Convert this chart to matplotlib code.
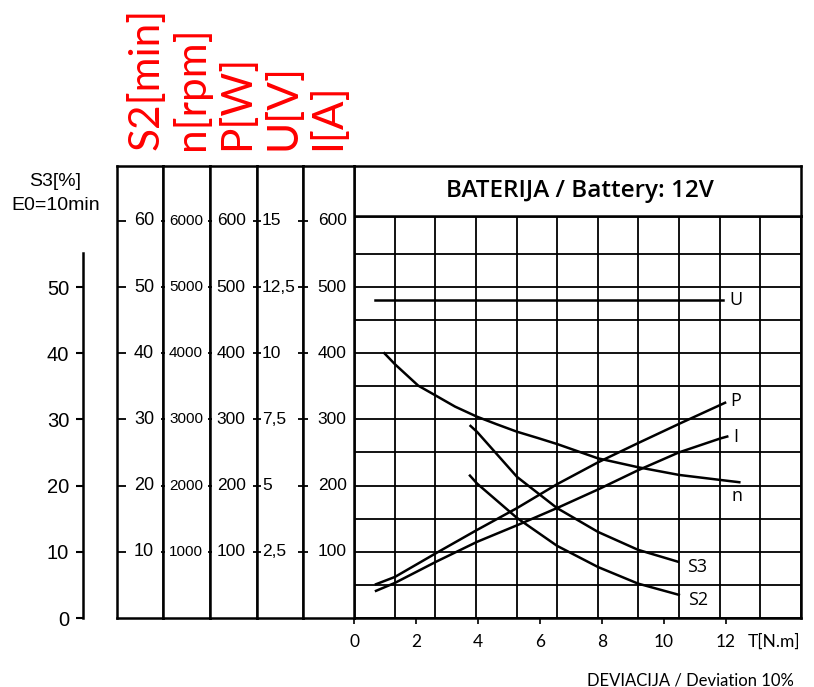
import numpy as np
import matplotlib
matplotlib.use("Agg")
import matplotlib.pyplot as plt
from matplotlib.transforms import blended_transform_factory

# ---------------- data ----------------
torque_ticks = [0, 2, 4, 6, 8, 10, 12]
s3_ticks = [0, 10, 20, 30, 40, 50]
s2_ticks = [10, 20, 30, 40, 50, 60]
n_ticks = [1000, 2000, 3000, 4000, 5000, 6000]
p_ticks = [100, 200, 300, 400, 500, 600]
u_ticks = [2.5, 5, 7.5, 10, 12.5, 15]
u_tick_labels = ["2,5", "5", "7,5", "10", "12,5", "15"]
i_ticks = [100, 200, 300, 400, 500, 600]

u_T = [0.68, 11.9]
u_V = [12, 12]

n_T = [0.98, 1.32, 2.07, 2.64, 3.26, 3.96, 4.60, 5.25, 5.95, 6.57, 7.86, 9.17, 10.49, 11.81, 12.43]
n_rpm = [3998, 3832, 3509, 3358, 3192, 3041, 2926, 2814, 2715, 2624, 2412, 2276, 2160, 2085, 2050]

p_T = [0.71, 1.32, 2.65, 3.97, 5.26, 6.55, 7.87, 9.16, 10.48, 11.97]
p_W = [51, 62, 98, 133, 166, 202, 235, 264, 293, 325]

i_T = [0.71, 1.32, 2.65, 3.97, 5.26, 6.55, 7.87, 9.16, 10.48, 11.81, 12.04]
i_A = [41, 53, 85, 115, 140, 166, 194, 223, 250, 271, 274]

s3_T = [3.76, 3.97, 5.26, 6.55, 7.87, 9.16, 10.45]
s3_pct = [29.0, 28.1, 21.3, 16.6, 13.0, 10.3, 8.5]

s2_T = [3.74, 3.97, 5.26, 6.55, 7.87, 9.16, 10.48]
s2_min = [21.5, 20.3, 15.1, 10.9, 7.7, 5.2, 3.5]

# scale factors relative to the common S3[%] scale
F_S2, F_N, F_P, F_U, F_I = 1.0, 100.0, 10.0, 0.25, 10.0

# ---------------- layout ----------------
W, H = 814, 687
fig = plt.figure(figsize=(W / 100, H / 100), dpi=100)

def rect(l, t, r, b):
    return [l / W, 1 - b / H, (r - l) / W, (b - t) / H]

Y_TOP_GRID = 60.7
Y_TOP_BOX = 68.3
X_MAX = 14.42
LW_BOX = 1.8
LW_GRID = 1.3
LW_CURVE = 1.8
ARIAL = "Liberation Sans"
CAL = "Lato"
OPEN = "Open Sans"

# main grid axes
ax = fig.add_axes(rect(354, 216, 801, 618))
ax.set_xlim(0, X_MAX)
ax.set_ylim(0, Y_TOP_GRID)
ax.set_xticks(torque_ticks)
ax.set_xticklabels([str(t) for t in torque_ticks], fontfamily=CAL, fontsize=12.5)
ax.set_xticks(np.linspace(0, X_MAX, 12), minor=True)
ax.set_yticks([])
ax.set_yticks(np.arange(0, 60, 5), minor=True)
ax.tick_params(axis="x", which="major", direction="out", length=4.5, width=1.2, pad=7)
ax.tick_params(which="minor", length=0)
ax.grid(True, which="minor", color="black", linewidth=LW_GRID)
ax.set_axisbelow(True)
for s in ax.spines.values():
    s.set_linewidth(LW_BOX)

ax.plot(u_T, np.array(u_V) / F_U, color="black", lw=LW_CURVE)
ax.plot(n_T, np.array(n_rpm) / F_N, color="black", lw=LW_CURVE)
ax.plot(p_T, np.array(p_W) / F_P, color="black", lw=LW_CURVE)
ax.plot(i_T, np.array(i_A) / F_I, color="black", lw=LW_CURVE)
ax.plot(s3_T, np.array(s3_pct), color="black", lw=LW_CURVE)
ax.plot(s2_T, np.array(s2_min) / F_S2, color="black", lw=LW_CURVE)

lab_kw = dict(textcoords="offset points", fontsize=13, fontfamily=OPEN, va="center")
ax.annotate("U", (u_T[-1], u_V[-1] / F_U), xytext=(5, 0), ha="left", **lab_kw)
ax.annotate("P", (p_T[-1], p_W[-1] / F_P), xytext=(4, 1.5), ha="left", **lab_kw)
ax.annotate("I", (i_T[-1], i_A[-1] / F_I), xytext=(4, 0), ha="left", **lab_kw)
ax.annotate("n", (n_T[-1], n_rpm[-1] / F_N), xytext=(-2, -10), ha="center", **lab_kw)
ax.annotate("S3", (s3_T[-1], s3_pct[-1]), xytext=(6.5, -3.5), ha="left", **lab_kw)
ax.annotate("S2", (s2_T[-1], s2_min[-1] / F_S2), xytext=(6.5, -3.5), ha="left", **lab_kw)

# header
hx = fig.add_axes(rect(354, 166, 801, 216))
hx.set_xticks([]); hx.set_yticks([])
for s in hx.spines.values():
    s.set_linewidth(LW_BOX)
hx.text(0.505, 0.50, "BATERIJA / Battery: 12V", ha="center", va="center",
        fontsize=17.5, fontfamily=OPEN, fontweight="semibold", transform=hx.transAxes)

# scale columns
cols = [
    (117, 163, F_S2, s2_ticks, [str(v) for v in s2_ticks], 0.59, "center", 13, "in", 6.5),
    (163, 210, F_N, n_ticks, [str(v) for v in n_ticks], 0.49, "center", 11, "inout", 3.5),
    (210, 257, F_P, p_ticks, [str(v) for v in p_ticks], 0.45, "center", 12.5, "inout", 3.0),
    (257, 303, F_U, u_ticks, u_tick_labels, 0.11, "left", 12.5, "inout", 5.5),
    (303, 354, F_I, i_ticks, [str(v) for v in i_ticks], 0.57, "center", 12.5, "inout", 6.5),
]
for (l, r, fac, ticks, labels, lx, ha, fs, tdir, tlen) in cols:
    cax = fig.add_axes(rect(l, 166, r, 618))
    cax.set_xlim(0, 1)
    cax.set_ylim(0, Y_TOP_BOX * fac)
    cax.set_xticks([])
    cax.set_yticks(ticks)
    cax.tick_params(axis="y", direction=tdir, length=tlen, width=1.3, labelleft=False)
    for s in cax.spines.values():
        s.set_linewidth(LW_BOX)
    tr = blended_transform_factory(cax.transAxes, cax.transData)
    for v, lab in zip(ticks, labels):
        cax.text(lx, v, lab, transform=tr, ha=ha, va="center", fontsize=fs, fontfamily=ARIAL)

# left S3 axis
sax = fig.add_axes(rect(83, 166, 84, 618))
sax.set_ylim(0, Y_TOP_BOX)
sax.set_xticks([])
sax.set_yticks(s3_ticks)
sax.set_yticklabels([str(v) for v in s3_ticks], fontfamily=ARIAL, fontsize=14.5)
sax.tick_params(axis="y", direction="out", length=5, width=1.5, pad=5)
for k in ["top", "right", "bottom"]:
    sax.spines[k].set_visible(False)
sax.spines["left"].set_linewidth(LW_BOX)
sax.spines["left"].set_bounds(0, 55.1)
sax.patch.set_visible(False)

fig.text(55 / W, 1 - 182 / H, "S3[%]", ha="center", va="center", fontsize=14, fontfamily=ARIAL)
fig.text(56 / W, 1 - 206 / H, "E0=10min", ha="center", va="center", fontsize=14, fontfamily=ARIAL)

# red rotated unit labels
red_labels = ["S2[min]", "n[rpm]", "P[W]", "U[V]", "I[A]"]
red_x = [146, 191, 237, 283, 328]
for lab, x in zip(red_labels, red_x):
    fig.text(x / W, 1 - 150 / H, lab, rotation=90, ha="center", va="bottom",
             fontsize=30.5, fontfamily=CAL, color="#ff0000")

# bottom texts
fig.text(774 / W, 1 - 642 / H, "T[N.m]", ha="center", va="center", fontsize=12.5, fontfamily=CAL)
fig.text(794 / W, 1 - 680 / H, "DEVIACIJA / Deviation 10%", ha="right", va="center",
         fontsize=12, fontfamily=CAL)

fig.savefig("out.png", dpi=100)
